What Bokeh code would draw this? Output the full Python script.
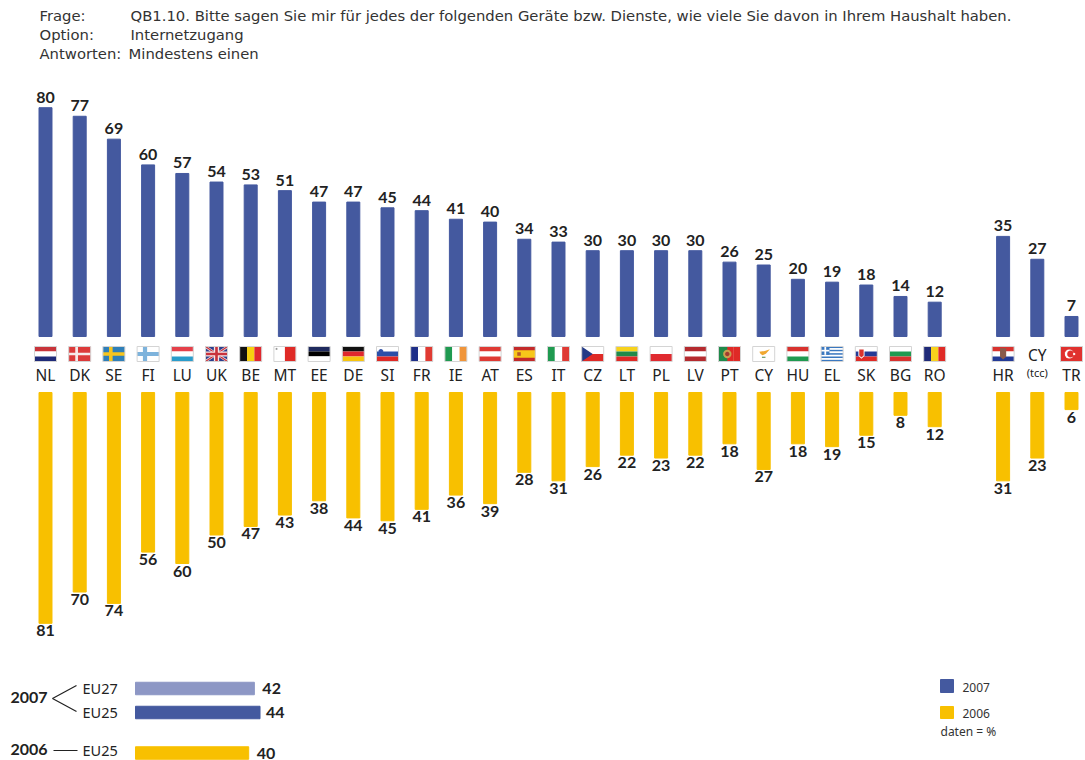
import math
from bokeh.plotting import figure
from bokeh.models import Range1d, ColumnDataSource
from bokeh.core.properties import value
from bokeh.embed import file_html
from bokeh.resources import INLINE

# ---------- data ----------
countries = ["NL","DK","SE","FI","LU","UK","BE","MT","EE","DE","SI","FR","IE","AT","ES","IT","CZ","LT","PL","LV","PT","CY","HU","EL","SK","BG","RO","HR","CY2","TR"]
v2007 = [80,77,69,60,57,54,53,51,47,47,45,44,41,40,34,33,30,30,30,30,26,25,20,19,18,14,12,35,27,7]
v2006 = [81,70,74,56,60,50,47,43,38,44,45,41,36,39,28,31,26,22,23,22,18,27,18,19,15,8,12,31,23,6]
summary_labels = ["EU27","EU25","EU25"]
summary_values = [42,44,40]
header_keys = ["Frage:","Option:","Antworten:"]
header_vals = ["QB1.10. Bitte sagen Sie mir für jedes der folgenden Geräte bzw. Dienste, wie viele Sie davon in Ihrem Haushalt haben.",
               "Internetzugang","Mindestens einen"]

# ---------- layout ----------
W, H = 1085, 760
LEFT, TOP = 0, 0
SLOT0, SLOT = 45.0, 34.2
UP0, UPK = 336.0, 2.86
LOW0, LOWK = 392.0, 2.85
SUM0, SUMK = 135.0, 2.83
BLUE, LIGHT, YEL = "#44599f", "#8d97c5", "#f8c000"
TXT = "#222222"
NUM = value("Lato")
NUMSZ = "16px"
slots = [i if i < 27 else i + 1 for i in range(len(countries))]
cx = [SLOT0 + SLOT * s for s in slots]

p = figure(width=W, height=H, output_backend="svg", toolbar_location=None,
           x_range=Range1d(LEFT, LEFT + W), y_range=Range1d(TOP + H, TOP),
           x_axis_location=None, y_axis_location=None, min_border=0,
           outline_line_color=None, background_fill_color="white", border_fill_color="white")
p.grid.visible = False
p.extra_x_ranges = {"slot": Range1d((LEFT - SLOT0) / SLOT, (LEFT + W - SLOT0) / SLOT),
                    "sum": Range1d((LEFT - SUM0) / SUMK, (LEFT + W - SUM0) / SUMK)}
p.extra_y_ranges = {"up": Range1d((UP0 - TOP - H) / UPK, (UP0 - TOP) / UPK),
                    "low": Range1d((TOP + H - LOW0) / LOWK, (TOP - LOW0) / LOWK)}

src = ColumnDataSource(dict(slot=slots, a=v2007, b=v2006,
                            ta=[str(v) for v in v2007], tb=[str(v) for v in v2006]))
p.vbar(x="slot", top="a", bottom=0, width=0.38, source=src, color=BLUE,
       x_range_name="slot", y_range_name="up")
p.vbar(x="slot", top="b", bottom=0, width=0.38, source=src, color=YEL,
       x_range_name="slot", y_range_name="low")
p.text(x="slot", y="a", text="ta", source=src, x_range_name="slot", y_range_name="up",
       text_align="center", text_baseline="bottom", y_offset=-5, text_font=NUM,
       text_font_size=NUMSZ, text_font_style="bold", text_color=TXT)
p.text(x="slot", y="b", text="tb", source=src, x_range_name="slot", y_range_name="low",
       text_align="center", text_baseline="top", y_offset=2, text_font=NUM,
       text_font_size=NUMSZ, text_font_style="bold", text_color=TXT)

# country codes
for i, c in enumerate(countries):
    if c == "CY2":
        p.text([cx[i]], [354], text=["CY"], text_align="center", text_baseline="middle",
               text_font=value("Noto Sans"), text_font_size="15.5px", text_color=TXT)
        p.text([cx[i]], [372], text=["(tcc)"], text_align="center", text_baseline="middle",
               text_font=value("Noto Sans"), text_font_size="11px", text_color=TXT)
    else:
        p.text([cx[i]], [374], text=[c], text_align="center", text_baseline="middle",
               text_font=value("Noto Sans"), text_font_size="15.5px", text_color=TXT)

# ---------- flags ----------
FW, FH = 22.0, 15.0
FY = 346.0
xs, ys, cs = [], [], []
def poly(c, pts, col):
    x0 = c - FW / 2
    xs.append([x0 + a * FW for a, _ in pts])
    ys.append([FY + b * FH for _, b in pts])
    cs.append(col)
def r(c, a0, b0, a1, b1, col):
    poly(c, [(a0, b0), (a1, b0), (a1, b1), (a0, b1)], col)
def disc(c, a, b, rad, col):
    pts = [(a + rad * math.cos(t / 16 * 2 * math.pi) * FH / FW, b + rad * math.sin(t / 16 * 2 * math.pi)) for t in range(16)]
    poly(c, pts, col)
def hs(c, *cols):
    for k, col in enumerate(cols):
        r(c, 0, k / len(cols), 1, (k + 1) / len(cols), col)
def vs(c, *cols):
    for k, col in enumerate(cols):
        r(c, k / len(cols), 0, (k + 1) / len(cols), 1, col)
def cross(c, bg, col, w=0.2, v=0.36):
    r(c, 0, 0, 1, 1, bg)
    r(c, v - w / 2 * FH / FW, 0, v + w / 2 * FH / FW, 1, col)
    r(c, 0, 0.5 - w / 2, 1, 0.5 + w / 2, col)

RED, NAVY = "#df2a26", "#1f2a78"
for name, c in zip(countries, cx):
    if name == "NL": hs(c, "#c8343a", "#ffffff", NAVY)
    elif name == "DK": cross(c, "#dc3a3a", "#f6eaea", 0.18)
    elif name == "SE": cross(c, "#2f7fb8", "#f7c51e", 0.24)
    elif name == "FI": cross(c, "#ffffff", "#7db3dc", 0.28)
    elif name == "LU": hs(c, "#e5404a", "#ffffff", "#2a9ccb")
    elif name == "UK":
        r(c, 0, 0, 1, 1, "#2c3f8e")
        for pts in ([(0, 0), (.09, 0), (1, .88), (1, 1), (.91, 1), (0, .12)],
                    [(1, 0), (.91, 0), (0, .88), (0, 1), (.09, 1), (1, .12)]):
            poly(c, pts, "#f2dfe0")
        poly(c, [(0, 0), (.05, 0), (1, .95), (1, 1), (.95, 1), (0, .05)], "#c8323c")
        poly(c, [(1, 0), (.95, 0), (0, .95), (0, 1), (.05, 1), (1, .05)], "#c8323c")
        r(c, .38, 0, .62, 1, "#f6e6e6"); r(c, 0, .33, 1, .67, "#f6e6e6")
        r(c, .44, 0, .56, 1, "#c8323c"); r(c, 0, .41, 1, .59, "#c8323c")
    elif name == "BE": vs(c, "#111111", "#f6d010", "#e0282e")
    elif name == "MT":
        vs(c, "#ffffff", RED); disc(c, .12, .16, .07, "#999999")
    elif name == "EE":
        r(c, 0, 0, 1, .33, "#1f2a5e"); r(c, 0, .33, 1, .66, "#000000"); r(c, 0, .66, 1, 1, "#ffffff")
    elif name == "DE": hs(c, "#111111", "#e0282e", "#f7c50e")
    elif name == "SI":
        hs(c, "#ffffff", "#2a4fa8", "#df2a26"); disc(c, .2, .33, .16, "#3050a8")
    elif name == "FR": vs(c, "#1f2f88", "#ffffff", "#e03a32")
    elif name == "IE": vs(c, "#1f9a50", "#ffffff", "#f0953a")
    elif name == "AT": hs(c, "#df3a34", "#ffffff", "#df3a34")
    elif name == "ES":
        r(c, 0, 0, 1, 1, "#c32a2a"); r(c, 0, .25, 1, .75, "#f7c71a")
        r(c, .18, .38, .34, .62, "#b5582a")
    elif name == "IT": vs(c, "#1f9a50", "#ffffff", "#df3a34")
    elif name == "CZ":
        hs(c, "#ffffff", RED); poly(c, [(0, 0), (.5, .5), (0, 1)], "#243a86")
    elif name == "LT": hs(c, "#f7d21c", "#1f8a4a", "#df2a26")
    elif name == "PL": hs(c, "#ffffff", "#e02a30")
    elif name == "LV": hs(c, "#b52a2e", "#ffffff", "#b52a2e")
    elif name == "PT":
        vs(c, "#1f8a4a", RED, RED); r(c, 0, 0, .4, 1, "#1f8a4a")
        disc(c, .4, .5, .28, "#c8a050"); disc(c, .4, .5, .15, "#a03a30")
    elif name == "CY":
        r(c, 0, 0, 1, 1, "#ffffff")
        poly(c, [(.3, .35), (.55, .3), (.78, .18), (.6, .48), (.45, .58), (.36, .5)], "#f0a830")
        r(c, .42, .68, .58, .76, "#6a9a6a")
    elif name == "HU": hs(c, "#d8322e", "#ffffff", "#1f9a50")
    elif name == "EL":
        for k in range(9):
            r(c, 0, k / 9, 1, (k + 1) / 9, "#3a78c0" if k % 2 == 0 else "#ffffff")
        r(c, 0, 0, .38, 5 / 9, "#3a78c0")
        r(c, .15, 0, .23, 5 / 9, "#ffffff"); r(c, 0, 2 / 9, .38, 3 / 9, "#ffffff")
    elif name == "SK":
        hs(c, "#ffffff", "#243a96", "#df2a26")
        poly(c, [(.14, .14), (.42, .14), (.42, .62), (.28, .82), (.14, .62)], "#ffffff")
        poly(c, [(.18, .2), (.38, .2), (.38, .6), (.28, .74), (.18, .6)], "#d8322e")
    elif name == "BG": hs(c, "#ffffff", "#1f9a50", "#d8322e")
    elif name == "RO": vs(c, "#1f2a78", "#f7d21c", "#df2a26")
    elif name == "CY2": pass
    elif name == "HR":
        hs(c, "#d8322e", "#ffffff", "#243a96")
        poly(c, [(.36, .12), (.64, .12), (.64, .68), (.5, .86), (.36, .68)], "#8a5a4a")
    elif name == "TR":
        r(c, 0, 0, 1, 1, "#e0312e")
        disc(c, .4, .5, .3, "#ffffff"); disc(c, .46, .5, .23, "#e0312e"); disc(c, .62, .5, .08, "#ffffff")

p.patches(xs, ys, fill_color=cs, line_color=None)
fl = [c for n, c in zip(countries, cx) if n != "CY2"]
p.quad(left=[c - FW / 2 for c in fl], right=[c + FW / 2 for c in fl],
       top=[FY] * len(fl), bottom=[FY + FH] * len(fl),
       fill_color=None, line_color="#d4d4d4", line_width=1)

# ---------- header ----------
for k, (hk, hv, y) in enumerate(zip(header_keys, header_vals, [15, 34, 53])):
    p.text([39], [y], text=[hk], text_baseline="middle", text_font=value("DejaVu Sans"),
           text_font_size="14.8px", text_color="#333333")
    p.text([130 if k < 2 else 128], [y], text=[hv], text_baseline="middle",
           text_font=value("DejaVu Sans"), text_font_size="14.8px", text_color="#333333")

# ---------- summary ----------
sum_y = [688, 712, 752.5]
sum_c = [LIGHT, BLUE, YEL]
label_y = [687, 711, 749.5]
p.hbar(y=sum_y, left=0, right=summary_values, height=12.5, color=sum_c, x_range_name="sum")
for lab, v, y, ly, off in zip(summary_labels, summary_values, sum_y, label_y, [8, 6, 8]):
    p.text([82], [ly], text=[lab], text_baseline="middle", text_font=value("Noto Sans"),
           text_font_size="14.5px", text_color=TXT)
    p.text([v], [y], text=[str(v)], x_range_name="sum", x_offset=off, text_baseline="middle",
           text_font=NUM, text_font_size=NUMSZ, text_font_style="bold", text_color=TXT)
p.text([10], [697], text=["2007"], text_baseline="middle", text_font=NUM, text_font_size=NUMSZ,
       text_font_style="bold", text_color=TXT)
p.text([10], [749], text=["2006"], text_baseline="middle", text_font=NUM, text_font_size=NUMSZ,
       text_font_style="bold", text_color=TXT)
p.line([76, 52, 76], [685, 698, 711], line_color="#222222", line_width=1.2)
p.line([53, 77], [750, 750], line_color="#222222", line_width=1.2)

# ---------- legend ----------
p.quad(left=[940, 940], right=[953, 953], top=[679, 706], bottom=[692, 718], color=[BLUE, YEL])
for t, y, x, fs in [("2007", 687, 962, "12px"), ("2006", 713, 962, "12px"), ("daten = %", 731, 940, "12px")]:
    p.text([x], [y], text=[t], text_baseline="middle", text_font=value("Noto Sans"),
           text_font_size=fs, text_color="#333333")

open("out.html", "w").write(file_html(p, INLINE))
